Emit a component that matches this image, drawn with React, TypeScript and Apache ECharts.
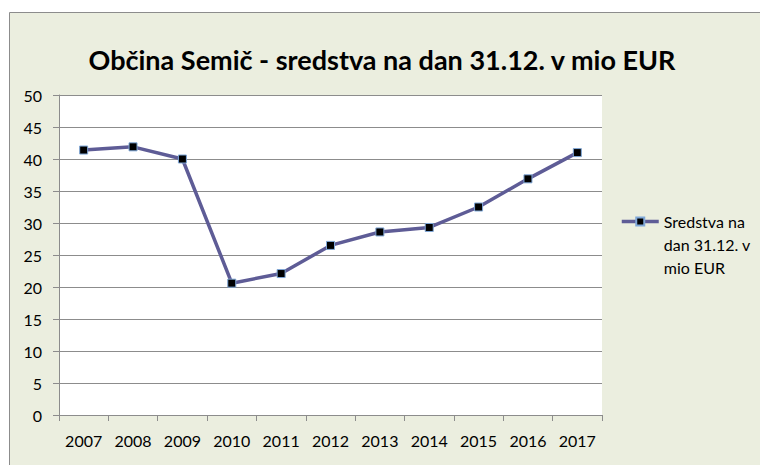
import React, { useEffect, useRef } from "react";
import * as echarts from "echarts";

const categories = ["2007", "2008", "2009", "2010", "2011", "2012", "2013", "2014", "2015", "2016", "2017"];
const values = [41.4, 41.9, 40.0, 20.6, 22.1, 26.5, 28.6, 29.3, 32.5, 36.9, 41.0];
const seriesName = "Sredstva na dan 31.12. v mio EUR";
const legendLines = ["Sredstva na", "dan 31.12. v", "mio EUR"];
const titleText = "Občina Semič - sredstva na dan 31.12. v mio EUR";

const FONT = "Lato, 'Open Sans', sans-serif";

export default function App() {
  const ref = useRef<HTMLDivElement>(null);
  useEffect(() => {
    if (!ref.current) return;
    const chart = echarts.init(ref.current, undefined, { renderer: "svg" });
    chart.setOption({
      animation: false,
      backgroundColor: "#ffffff",
      textStyle: { fontFamily: FONT },
      graphic: [
        {
          type: "rect",
          z: -10,
          silent: true,
          shape: { x: 9.5, y: 12.5, width: 800, height: 500 },
          style: { fill: "#EBEEDF", stroke: "#8c8c8c", lineWidth: 1 },
        },
      ],
      title: {
        text: titleText,
        left: 377,
        textAlign: "center",
        top: 41,
        textStyle: { fontFamily: FONT, fontWeight: "bold", fontSize: 27, color: "#000" },
      },
      legend: {
        left: 620,
        top: 164,
        padding: 0,
        orient: "vertical",
        itemWidth: 37,
        itemHeight: 10,
        itemGap: 0,
        lineStyle: { width: 3.5, color: "#5E5C96" },
        formatter: () => "\u00a0\n\u00a0\n" + legendLines.join("\n"),
        textStyle: {
          fontFamily: FONT,
          fontSize: 16,
          color: "#000",
          lineHeight: 23,
        },
        data: [{ name: seriesName }],
      },
      grid: {
        left: 59,
        top: 95,
        width: 543,
        height: 320,
        show: true,
        backgroundColor: "#ffffff",
        borderWidth: 0,
      },
      xAxis: {
        type: "category",
        data: categories,
        boundaryGap: true,
        axisLine: { show: true, lineStyle: { color: "#8c8c8c", width: 1 } },
        axisTick: { show: true, length: 6, alignWithLabel: false, lineStyle: { color: "#8c8c8c" } },
        axisLabel: { color: "#000", fontSize: 16, fontFamily: FONT, margin: 17, interval: 0 },
        splitLine: { show: false },
      },
      yAxis: {
        type: "value",
        min: 0,
        max: 50,
        interval: 5,
        axisLine: { show: true, lineStyle: { color: "#8c8c8c", width: 1 } },
        axisTick: { show: true, length: 6, lineStyle: { color: "#8c8c8c" } },
        axisLabel: { color: "#000", fontSize: 16, fontFamily: FONT, margin: 17 },
        splitLine: { show: true, lineStyle: { color: "#8c8c8c", width: 1 } },
      },
      series: [
        {
          name: seriesName,
          type: "line",
          data: values,
          symbol: "rect",
          symbolSize: 8,
          lineStyle: { color: "#5E5C96", width: 3.5 },
          itemStyle: { color: "#000", borderColor: "#7FA7D8", borderWidth: 1 },
        },
      ],
    });
    return () => chart.dispose();
  }, []);
  return (
    <div
      ref={ref}
      style={{ position: "absolute", left: 0, top: 0, width: 760, height: 465 }}
    />
  );
}
